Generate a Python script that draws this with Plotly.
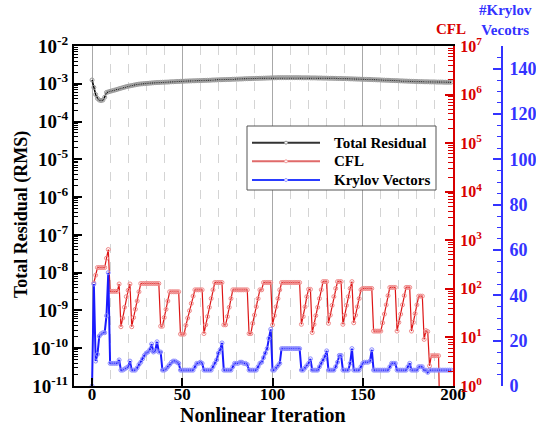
import plotly.graph_objects as go

# ---------------- data ----------------
iterations = list(range(200))

# Total residual (RMS), in units of 1e-3
residual_x1e3 = [
    1.26, 0.80, 0.52, 0.41, 0.37, 0.36, 0.37, 0.44, 0.59, 0.61,
    0.63, 0.65, 0.67, 0.69, 0.71, 0.74, 0.76, 0.79, 0.81, 0.84,
    0.86, 0.88, 0.90, 0.92, 0.94, 0.96, 0.98, 0.99, 1.00, 1.01,
    1.02, 1.03, 1.04, 1.05, 1.06, 1.07, 1.08, 1.08, 1.09, 1.10,
    1.10, 1.11, 1.11, 1.12, 1.13, 1.13, 1.14, 1.15, 1.15, 1.16,
    1.17, 1.17, 1.18, 1.18, 1.19, 1.19, 1.20, 1.20, 1.21, 1.21,
    1.22, 1.22, 1.23, 1.23, 1.24, 1.24, 1.25, 1.26, 1.26, 1.27,
    1.27, 1.28, 1.28, 1.29, 1.29, 1.30, 1.30, 1.31, 1.32, 1.32,
    1.33, 1.33, 1.34, 1.34, 1.35, 1.36, 1.36, 1.37, 1.37, 1.38,
    1.38, 1.39, 1.39, 1.40, 1.40, 1.41, 1.41, 1.42, 1.42, 1.43,
    1.43, 1.44, 1.44, 1.45, 1.45, 1.45, 1.45, 1.45, 1.45, 1.45,
    1.45, 1.45, 1.45, 1.45, 1.45, 1.45, 1.44, 1.44, 1.44, 1.44,
    1.44, 1.43, 1.43, 1.43, 1.43, 1.42, 1.42, 1.42, 1.41, 1.41,
    1.41, 1.40, 1.40, 1.40, 1.39, 1.39, 1.38, 1.38, 1.38, 1.37,
    1.37, 1.36, 1.36, 1.35, 1.35, 1.34, 1.34, 1.33, 1.33, 1.32,
    1.32, 1.31, 1.31, 1.30, 1.30, 1.29, 1.28, 1.28, 1.27, 1.27,
    1.26, 1.25, 1.25, 1.24, 1.24, 1.23, 1.22, 1.22, 1.21, 1.21,
    1.20, 1.19, 1.19, 1.18, 1.18, 1.17, 1.17, 1.16, 1.16, 1.15,
    1.15, 1.14, 1.14, 1.14, 1.13, 1.13, 1.13, 1.12, 1.12, 1.12,
    1.12, 1.11, 1.11, 1.11, 1.11, 1.10, 1.10, 1.10, 1.10, 1.10,
]

# CFL number per iteration (index 0 .. 193)
cfl = [
    None,
    132, 191, 275, 275, 275, 275, 275, 427, 646, 89,
    89, 89, 89, 89, 126, 16.6, 25.1, 41.7, 69.2, 93.3,
    126, 16.6, 25.7, 38, 56.2, 87.1, 129, 129, 129, 129,
    129, 129, 129, 129, 129, 129, 129, 17, 17, 25.7,
    38, 56.2, 87.1, 87.1, 87.1, 87.1, 87.1, 87.1, 11.7, 11.7,
    11.7, 17.8, 25.1, 35.5, 50.1, 70.8, 95.5, 95.5, 95.5, 95.5,
    95.5, 12, 18.2, 26.9, 41.7, 63.1, 95.5, 135, 135, 135,
    135, 135, 18.2, 18.2, 26.9, 41.7, 63.1, 95.5, 95.5, 95.5,
    95.5, 95.5, 95.5, 95.5, 95.5, 95.5, 12, 12, 19.5, 28.8,
    42.7, 63.1, 95.5, 95.5, 135, 135, 135, 135, 135, 18.2,
    28.2, 42.7, 63.1, 95.5, 135, 135, 135, 135, 135, 135,
    135, 135, 135, 135, 135, 18.6, 26.9, 42.7, 69.2, 97.7,
    97.7, 12.6, 18.6, 28.2, 41.7, 63.1, 95.5, 141, 141, 141,
    19.5, 28.8, 45.7, 69.2, 102, 141, 141, 141, 18.6, 28.8,
    45.7, 69.2, 102, 141, 20, 28.8, 42.7, 63.1, 95.5, 102,
    102, 102, 102, 102, 102, 13.5, 13.5, 13.5, 13.5, 13.5,
    20, 30.2, 46.8, 72.4, 107, 107, 107, 107, 13.5, 20.4,
    30.2, 46.8, 72.4, 107, 107, 107, 13.5, 20.4, 30.9, 46.8,
    70.8, 70.8, 70.8, 9.1, 13.8, 13.2, 2.6, 4.2, 4.2, 4.2,
    4.2, 4.2, 0.05,
]

# Number of Krylov vectors per iteration
krylov = [
    0, 45, 11, 14, 22, 23, 23.5, 23.5, 31, 50,
    10, 10, 10, 10, 10, 11.5, 7, 7, 7.5, 8,
    8.5, 11, 7, 7, 7, 8, 9.5, 10.5, 12, 13.5,
    14.5, 15, 16, 18.5, 15, 15.5, 19.5, 15, 15, 7,
    7, 7.5, 8.5, 9.5, 10.5, 11, 11, 10.5, 10, 7,
    7, 7, 7, 7, 7, 7, 7, 8.5, 10, 10,
    10.5, 10, 7, 7, 7, 7, 7, 8.5, 10, 11.5,
    14.5, 16, 19, 7, 7, 7, 7, 7, 8.5, 10,
    10, 10, 10.5, 10.5, 10, 10, 9.5, 7, 7, 7,
    7, 7, 8.5, 10, 10.5, 12.5, 14.5, 16.5, 21, 25,
    7, 7, 8, 9, 10, 16.5, 16.5, 16.5, 16.5, 16.5,
    16.5, 16.5, 16.5, 16.5, 16.5, 16.5, 7, 7, 8, 9,
    10, 12, 7, 7, 7, 7, 8.5, 10, 11.5, 13,
    15.5, 7, 7, 7, 7, 8.5, 10.5, 13.5, 13.5, 7,
    7, 7, 7, 10, 16.5, 7, 7, 7, 7, 8.5,
    10, 10.5, 10.5, 10.5, 11, 16, 7, 7, 7, 7,
    7, 7, 7, 7, 7, 8.5, 10, 10, 10, 7,
    7, 7, 7, 7, 7, 8.5, 10, 7, 7, 7,
    7, 8.5, 8.5, 8.5, 7, 7, 6, 7, 7, 7,
    7, 7, 7, 7, 7, 7, 7, 7, 7, 7,
]

x_ticks = [0, 50, 100, 150, 200]
res_exponents = list(range(-11, -1))
cfl_exponents = list(range(0, 8))
krylov_ticks = [0, 20, 40, 60, 80, 100, 120, 140]

series_names = ["Total Residual", "CFL", "Krylov Vectors"]

# ---------------- styling ----------------
FONT = "Liberation Serif"
RED = "#d80000"
BLUE = "#3333ff"

residual = [v * 1e-3 for v in residual_x1e3]

fig = go.Figure()
fig.add_trace(go.Scatter(
    x=iterations, y=residual, mode="lines+markers", name=series_names[0],
    line=dict(color="#000000", width=1.5),
    marker=dict(symbol="circle-open", size=4, color="#999999", line=dict(width=1)),
    yaxis="y", showlegend=False))
fig.add_trace(go.Scatter(
    x=iterations[:len(cfl)], y=cfl, mode="lines+markers", name=series_names[1],
    line=dict(color="#dd1515", width=1.2),
    marker=dict(symbol="circle-open", size=4, color="#f08a8a", line=dict(width=1)),
    yaxis="y2", showlegend=False))
fig.add_trace(go.Scatter(
    x=iterations, y=krylov, mode="lines+markers", name=series_names[2],
    line=dict(color="#1a1aff", width=2),
    marker=dict(symbol="circle-open", size=4, color="#8c8cff", line=dict(width=1)),
    yaxis="y3", showlegend=False))

W, H = 536, 425
ml, mr, mt, mb = 74, 26, 46, 39
pw = W - ml - mr
ph = H - mt - mb


def px(xp):
    return (xp - ml) / pw


def py(yp):
    return (H - mb - yp) / ph


x_end = px(453)

minor_res = [m * 10.0 ** e for e in range(-11, -2) for m in range(2, 10)]
minor_cfl = [m * 10.0 ** e for e in range(0, 7) for m in range(2, 10)]

fig.update_layout(
    width=W, height=H,
    margin=dict(l=ml, r=mr, t=mt, b=mb, autoexpand=False),
    paper_bgcolor="white", plot_bgcolor="white",
    showlegend=False,
    font=dict(family=FONT, color="black"),
    xaxis=dict(
        domain=[0, x_end], range=[-10, 200],
        tickmode="array", tickvals=x_ticks, ticktext=[str(t) for t in x_ticks],
        ticks="inside", ticklen=8, tickwidth=2, tickcolor="black",
        tickfont=dict(family=FONT, size=17, color="black", weight="bold"),
        ticklabelstandoff=-8,
        showline=True, linecolor="black", linewidth=2, mirror=True,
        showgrid=True, gridcolor="#a8a8a8", gridwidth=1,
        zeroline=False,
        minor=dict(dtick=10, tick0=0, showgrid=True, gridcolor="#d4d4d4",
                   griddash="dash", gridwidth=1, ticks=""),
    ),
    yaxis=dict(
        type="log", range=[-11, -2],
        tickmode="array", tickvals=[10.0 ** e for e in res_exponents],
        ticktext=["10<sup>%d</sup>" % e for e in res_exponents],
        ticks="inside", ticklen=8, tickwidth=2, tickcolor="black",
        tickfont=dict(family=FONT, size=19, color="black", weight="bold"),
        showline=True, linecolor="black", linewidth=2,
        showgrid=False, zeroline=False,
        minor=dict(tickmode="array", tickvals=minor_res, ticks="inside",
                   ticklen=4, tickwidth=1, tickcolor="black", showgrid=False),
    ),
    yaxis2=dict(
        type="log", range=[0, 7], overlaying="y", side="right", anchor="x",
        tickmode="array", tickvals=[10.0 ** e for e in cfl_exponents],
        ticktext=["10<sup>%d</sup>" % e for e in cfl_exponents],
        ticks="inside", ticklen=8, tickwidth=2, tickcolor=RED,
        tickfont=dict(family=FONT, size=16, color=RED, weight="bold"),
        ticklabelstandoff=2,
        showline=True, linecolor=RED, linewidth=2,
        showgrid=False, zeroline=False,
        minor=dict(tickmode="array", tickvals=minor_cfl, ticks="inside",
                   ticklen=5, tickwidth=1, tickcolor=RED, showgrid=False),
    ),
    yaxis3=dict(
        range=[0, 150], overlaying="y", side="right", anchor="free",
        position=px(502),
        tickmode="array", tickvals=krylov_ticks,
        ticks="inside", ticklen=8, tickwidth=2, tickcolor=BLUE,
        tickfont=dict(family=FONT, size=18, color=BLUE, weight="bold"),
        ticklabelstandoff=3,
        showline=True, linecolor=BLUE, linewidth=2,
        showgrid=False, zeroline=False,
        minor=dict(dtick=5, tick0=0, ticks="inside", ticklen=4, tickwidth=1,
                   tickcolor=BLUE, showgrid=False),
    ),
)

annotations = [
    dict(text="Total Residual (RMS)", x=px(21), y=py(215), textangle=-90,
         font=dict(family=FONT, size=18, color="black", weight="bold")),
    dict(text="Nonlinear Iteration", x=px(263), y=py(415),
         font=dict(family=FONT, size=20, color="black", weight="bold")),
    dict(text="CFL", x=px(451), y=py(29),
         font=dict(family=FONT, size=15, color=RED, weight="bold")),
    dict(text="#Krylov<br>Vecotrs", x=px(505), y=py(20),
         font=dict(family=FONT, size=15, color=BLUE, weight="bold")),
]
for a in annotations:
    a.update(xref="paper", yref="paper", showarrow=False,
             xanchor="center", yanchor="middle")

# legend drawn as a framed box with long sample lines
legend_rows = [(142.7, "#333333", "#999999"), (161.3, "#e06a6a", "#f3a0a0"),
               (180.0, "#2a3cff", "#9a9aff")]
shapes = [dict(type="rect", xref="paper", yref="paper",
               x0=px(247), x1=px(436), y0=py(190), y1=py(126),
               line=dict(color="#555555", width=1), fillcolor="white",
               layer="above")]
for (yy, lc, mc), name in zip(legend_rows, series_names):
    shapes.append(dict(type="line", xref="paper", yref="paper",
                       x0=px(252), x1=px(320), y0=py(yy), y1=py(yy),
                       line=dict(color=lc, width=2), layer="above"))
    shapes.append(dict(type="circle", xref="paper", yref="paper",
                       x0=px(284.5), x1=px(287.5), y0=py(yy + 1.5), y1=py(yy - 1.5),
                       line=dict(color=mc, width=1), fillcolor="white",
                       layer="above"))
    annotations.append(dict(text=name, xref="paper", yref="paper",
                            x=px(332), y=py(yy), xanchor="left", yanchor="middle",
                            showarrow=False,
                            font=dict(family=FONT, size=15, color="black",
                                      weight="bold")))

fig.update_layout(annotations=annotations, shapes=shapes)

fig.write_html("out.html")
